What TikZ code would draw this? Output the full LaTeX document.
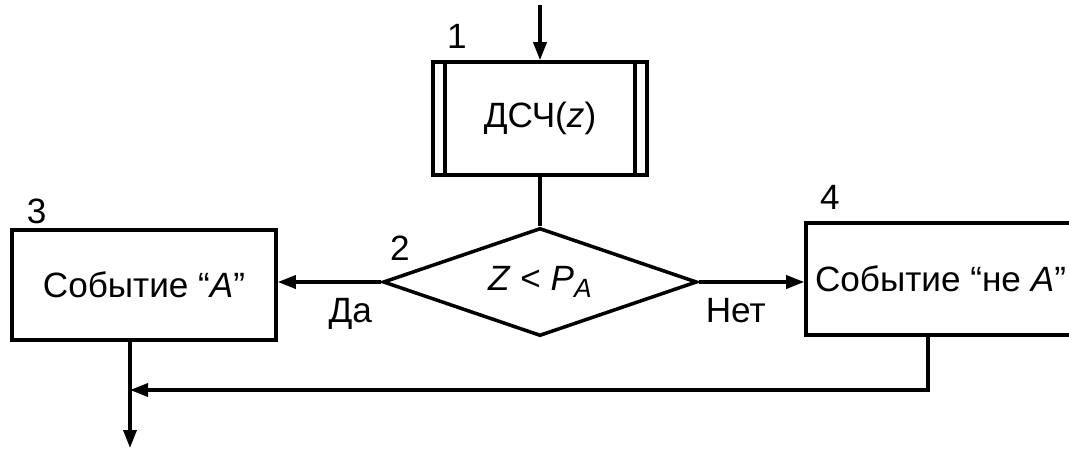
\documentclass[tikz,border=0pt]{standalone}
\usepackage{fontspec}
\setmainfont{Liberation Sans}
\usepackage{tikz}
\usetikzlibrary{arrows.meta}
\usetikzlibrary{shapes.geometric, positioning}

\begin{document}
\begin{tikzpicture}[
      >={Triangle[length=0.36cm, width=0.26cm]},
      font=\fontsize{20}{24}\selectfont,
      line width=2pt,
      blok/.style={draw, rectangle, inner sep=0pt},
      usl/.style={draw, diamond, aspect=2.9, inner sep=0pt, minimum width=6.28cm, minimum height=2.16cm},
      num/.style={inner sep=0pt, anchor=south west},
      lbl/.style={inner sep=0pt}
    ]
    \useasboundingbox (0,0) rectangle (21.38,-9);

    % Блоки
    \node[blok, minimum width=4.28cm, minimum height=2.26cm] (b1) at (10.8,-2.37) {ДСЧ(\textit{z})};
    \draw ([xshift=0.28cm]b1.north west) -- ([xshift=0.28cm]b1.south west);
    \draw ([xshift=-0.28cm]b1.north east) -- ([xshift=-0.28cm]b1.south east);
    \node[usl] (b2) at (10.8,-5.64) {\textit{Z} < \textit{P}\raisebox{-0.35ex}{\fontsize{15}{15}\selectfont\textit{A}}};
    \node[blok, minimum width=5.28cm, minimum height=2.2cm] (b3) at (2.88,-5.7) {Событие “\textit{A}”};
    \node[blok, minimum width=5.38cm, minimum height=2.24cm] (b4) at (18.81,-5.58) {Событие “не \textit{A}”};

    % Номера
    \node[num, above right=0.2cm and 0.28cm of b1.north west, anchor=south west] (n1) {1};
    \node[num, right=0.14cm of b2.west, yshift=0.4cm, anchor=south west] (n2) {2};
    \node[num, above right=0.06cm and 0.3cm of b3.north west, anchor=south west] (n3) {3};
    \node[num, above right=0.2cm and 0.28cm of b4.north west, anchor=south west] (n4) {4};

    % Точки
    \coordinate (vhod) at (10.8,-0.1);
    \coordinate (b4out) at ([xshift=-0.25cm]b4.south);
    \coordinate (sliv) at (2.6,-7.8);
    \coordinate (vyhod) at (2.6,-8.96);

    % Связи
    \draw[->] (vhod) -- (b1.north);
    \draw (b1.south) -- (b2.north);
    \draw[->] (b2.west) -- (b2.west -| b3.east) node[lbl, pos=0.3, below=0.3cm] (da) {Да};
    \draw[->] (b2.east) -- (b2.east -| b4.west) node[lbl, pos=0.35, below=0.3cm] (net) {Нет};
    \draw[->] (b4out) |- (sliv);
    \draw[->] (b3.south -| sliv) -- (vyhod);
  \end{tikzpicture}
\end{document}
